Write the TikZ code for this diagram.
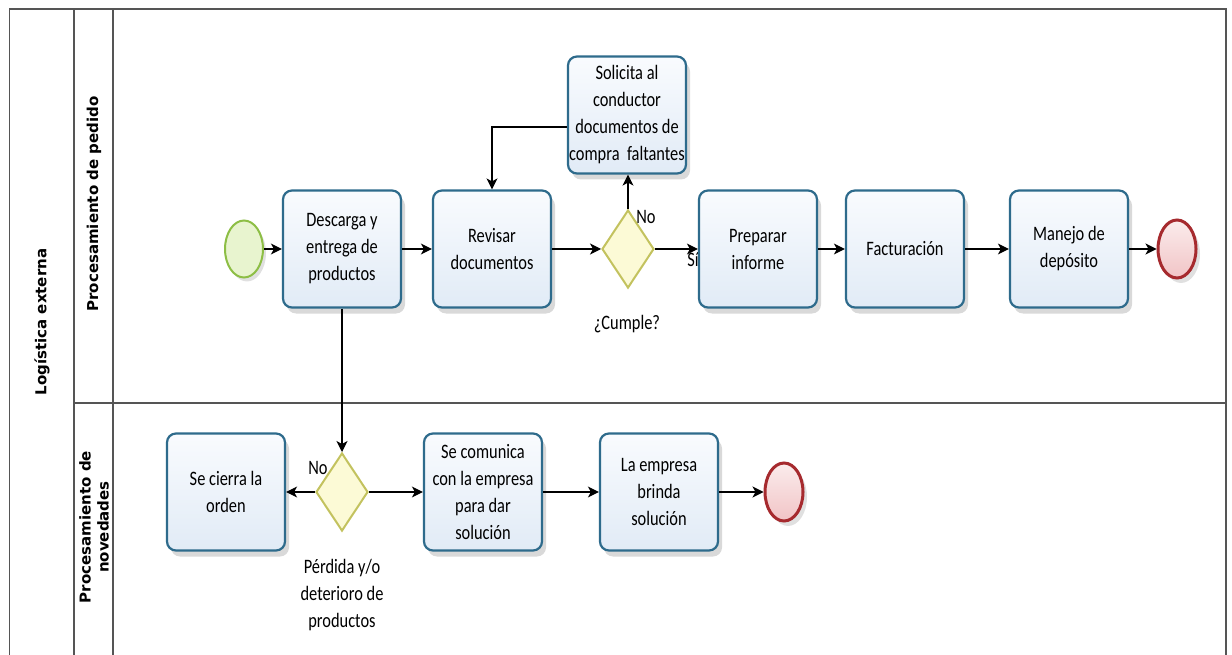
\documentclass[tikz,border=0pt]{standalone}
\usepackage{fontspec}
\setmainfont{Carlito}
\newfontfamily\boxfont[FakeStretch=0.8]{Carlito}
\newfontfamily\lanefont{DejaVu Sans}
\usetikzlibrary{shapes.geometric, arrows.meta, shadows}

\definecolor{taskline}{HTML}{2E6B8C}
\definecolor{tasktop}{HTML}{F9FBFE}
\definecolor{taskbot}{HTML}{E1EBF6}
\definecolor{startline}{HTML}{8DBE45}
\definecolor{startfill}{HTML}{E8F4CF}
\definecolor{endline}{HTML}{A62A2E}
\definecolor{endtop}{HTML}{FBECEC}
\definecolor{endbot}{HTML}{F1C4C6}
\definecolor{gateline}{HTML}{C3C25E}
\definecolor{gatefill}{HTML}{FCFAD6}
\definecolor{laneline}{HTML}{555555}

\tikzset{
  boxtext/.style={font=\boxfont\fontsize{20.5}{27}\selectfont},
  task/.style={boxtext, draw=taskline, line width=2.2pt, rounded corners=9pt,
    top color=tasktop, bottom color=taskbot, minimum width=118pt,
    minimum height=117pt, inner sep=0pt, align=center,
    drop shadow={shadow xshift=4pt, shadow yshift=-6pt, opacity=0.15, fill=black}},
  startev/.style={ellipse, draw=startline, line width=2pt, fill=startfill,
    minimum width=38pt, minimum height=57pt, inner sep=0pt,
    drop shadow={shadow xshift=3pt, shadow yshift=-4pt, opacity=0.12, fill=black}},
  endev/.style={ellipse, draw=endline, line width=3pt, top color=endtop,
    bottom color=endbot, minimum width=38pt, minimum height=58pt, inner sep=0pt,
    drop shadow={shadow xshift=4pt, shadow yshift=-5pt, opacity=0.12, fill=black}},
  gate/.style={diamond, draw=gateline, line width=2pt, fill=gatefill,
    minimum width=52pt, minimum height=78pt, inner sep=0pt},
  flow/.style={draw=black, line width=1.2pt,
    -{Stealth[length=11pt, width=11pt, inset=3pt]}},
  lbl/.style={boxtext, inner sep=0pt, align=center},
  lanetext/.style={font=\lanefont\bfseries\fontsize{15}{18}\selectfont,
    rotate=90, align=center, inner sep=0pt},
  laneedge/.style={draw=laneline, line width=1.3pt}
}

\begin{document}
\begin{tikzpicture}[x=1pt, y=-1pt]
\useasboundingbox (0,0) rectangle (1232,655);
\fill[white] (0,0) rectangle (1232,655);

% pool frame and lane dividers
\draw[laneedge] (9.5,656) -- (9.5,9) -- (1226,9) -- (1226,656);
\draw[laneedge] (74,9) -- (74,656);
\draw[laneedge] (113,9) -- (113,656);
\draw[laneedge] (74,403) -- (1226,403);

% pool and lane titles
\node[lanetext] (pool) at (42,322) {Logística externa};
\node[lanetext] (laneA) at (94,204) {Procesamiento de pedido};
\node[lanetext] (laneB) at (94,527) {Procesamiento de\\novedades};

% order processing lane
\node[startev] (s0) at (244,249) {};
\node[task] (t1) at (342,249) {Descarga y\\entrega de\\productos};
\node[task] (t2) at (492,249) {Revisar\\documentos};
\node[gate] (g1) at (628,249) {};
\node[task] (t6) at (627,115) {Solicita al\\conductor\\documentos de\\compra~ faltantes};
% the "yes" label sits partly under the next task
\node[lbl] (l2) at (693,260) {Sí};
\node[task] (t3) at (758,249) {Preparar\\informe};
\node[task] (t4) at (905,249) {Facturación};
\node[task] (t5) at (1069,249) {Manejo de\\depósito};
\node[endev] (e1) at (1177,249) {};

% incident lane
\node[task] (t7) at (226,492) {Se cierra la\\orden};
\node[gate] (g2) at (342,492) {};
\node[task] (t8) at (483,492) {Se comunica\\con la empresa\\para dar\\solución};
\node[task] (t9) at (659,492) {La empresa\\brinda\\solución};
\node[endev] (e2) at (784,492) {};

% sequence flows
\draw[flow] (s0) -- (t1);
\draw[flow] (t1) -- (t2);
\draw[flow] (t2) -- (g1);
\draw[flow] (g1) -- (t3);
\draw[flow] (g1.north) -- (g1.north |- t6.south);
\draw[flow] ([yshift=-12pt]t6.west) -| (t2.north);
\draw[flow] (t3) -- (t4);
\draw[flow] (t4) -- (t5);
\draw[flow] (t5) -- (e1);
\draw[flow] (t1) -- (g2);
\draw[flow] (g2) -- (t7);
\draw[flow] (g2) -- (t8);
\draw[flow] (t8) -- (t9);
\draw[flow] (t9) -- (e2);

% gateway labels
\node[lbl] (l1) at (646,217) {No};
\node[lbl] (l3) at (627,324) {¿Cumple?};
\node[lbl] (l4) at (318,468) {No};
\node[lbl] (l5) at (342,595) {Pérdida y/o\\deterioro de\\productos};
\end{tikzpicture}
\end{document}
